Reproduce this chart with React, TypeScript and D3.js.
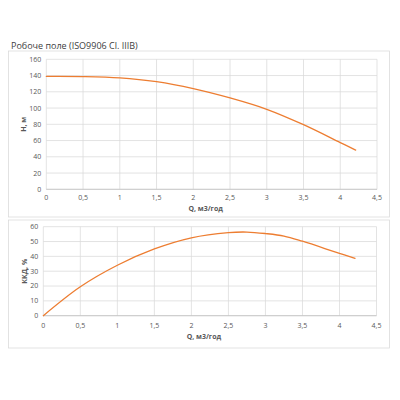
import React from "react";
import * as d3 from "d3";

const title = "Робоче поле (ISO9906 Cl. IIIB)";
const xLabel = "Q, м3/год";
const hLabel = "H, м";
const effLabel = "ККД, %";

const xTicks = [0, 0.5, 1, 1.5, 2, 2.5, 3, 3.5, 4, 4.5];
const hTicks = [0, 20, 40, 60, 80, 100, 120, 140, 160];
const effTicks = [0, 10, 20, 30, 40, 50, 60];

const hQ = [0, 0.5, 1, 1.5, 2, 2.5, 3, 3.5, 4, 4.21];
const hVals = [139, 138.8, 137.2, 132.5, 124, 112.5, 98.5, 79.5, 57.5, 48.3];

const effQ = [0, 0.5, 1, 1.5, 2, 2.5, 2.75, 3, 3.25, 3.5, 4, 4.21];
const effVals = [0, 19.5, 34, 45, 52.5, 56, 56.4, 55.4, 53.7, 50.2, 42, 38.7];

const fmt = (v: number) => String(v).replace(".", ",");
const FONT = "'Open Sans', 'DejaVu Sans', sans-serif";
const LINE = "#ED7D31";
const GRID = "#D9D9D9";
const TXT = "#595959";

function Panel({
  x0, x1, y0, y1, yMax, yTicks, qs, vals, yLabel, yLabelX, xLabelY, tickY,
}: {
  x0: number; x1: number; y0: number; y1: number; yMax: number; yTicks: number[];
  qs: number[]; vals: number[]; yLabel: string; yLabelX: number; xLabelY: number; tickY: number;
}) {
  const x = d3.scaleLinear().domain([0, 4.5]).range([x0, x1]);
  const y = d3.scaleLinear().domain([0, yMax]).range([y0, y1]);
  const line = d3
    .line<number>()
    .x((_, i) => x(qs[i]))
    .y((d) => y(d))
    .curve(d3.curveCatmullRom.alpha(0.5));
  const yMid = (y0 + y1) / 2;
  return (
    <g fontFamily={FONT}>
      {yTicks.map((t) => (
        <line key={"h" + t} x1={x0} x2={x1} y1={y(t)} y2={y(t)} stroke={GRID} strokeWidth={0.75} />
      ))}
      {xTicks.map((t) => (
        <line key={"v" + t} x1={x(t)} x2={x(t)} y1={y(0)} y2={y(yMax)} stroke={GRID} strokeWidth={0.75} />
      ))}
      <line x1={x0} x2={x1} y1={y(0)} y2={y(0)} stroke="#BFBFBF" strokeWidth={0.75} />
      {yTicks.map((t) => (
        <text key={"yl" + t} x={x0 - 5} y={y(t)} dy="0.35em" textAnchor="end" fontSize={7} fill={TXT}>
          {fmt(t)}
        </text>
      ))}
      {xTicks.map((t) => (
        <text key={"xl" + t} x={x(t)} y={tickY} dy="0.35em" textAnchor="middle" fontSize={7} fill={TXT}>
          {fmt(t)}
        </text>
      ))}
      <path d={line(vals) || ""} fill="none" stroke={LINE} strokeWidth={1.3} strokeLinecap="round" />
      <text x={(x0 + x1) / 2 - 6} y={xLabelY} dy="0.35em" textAnchor="middle" fontSize={7} fontWeight="bold" fill={TXT}>
        {xLabel}
      </text>
      <text
        transform={`translate(${yLabelX},${yMid}) rotate(-90)`}
        dy="0.35em"
        textAnchor="middle"
        fontSize={7}
        fontWeight="bold"
        fill={TXT}
      >
        {yLabel}
      </text>
    </g>
  );
}

export default function App() {
  return (
    <svg width={400} height={400} style={{ position: "absolute", left: 0, top: 0, background: "#fff" }}>
      <rect x={0} y={0} width={400} height={400} fill="#fff" />
      <rect x={8.5} y={51} width={381} height={166} fill="#fff" stroke={GRID} strokeWidth={0.75} />
      <rect x={8.5} y={220} width={381} height={128} fill="#fff" stroke={GRID} strokeWidth={0.75} />
      <text x={11} y={49} fontFamily={FONT} fontSize={9} fill="#404040">
        {title}
      </text>
      <Panel
        x0={46.3} x1={377} y0={189.3} y1={59.3} yMax={160} yTicks={hTicks}
        qs={hQ} vals={hVals} yLabel={hLabel} yLabelX={23.5} xLabelY={208.5} tickY={198}
      />
      <Panel
        x0={43.3} x1={376.5} y0={315.7} y1={226.7} yMax={60} yTicks={effTicks}
        qs={effQ} vals={effVals} yLabel={effLabel} yLabelX={25} xLabelY={336.5} tickY={326}
      />
    </svg>
  );
}
